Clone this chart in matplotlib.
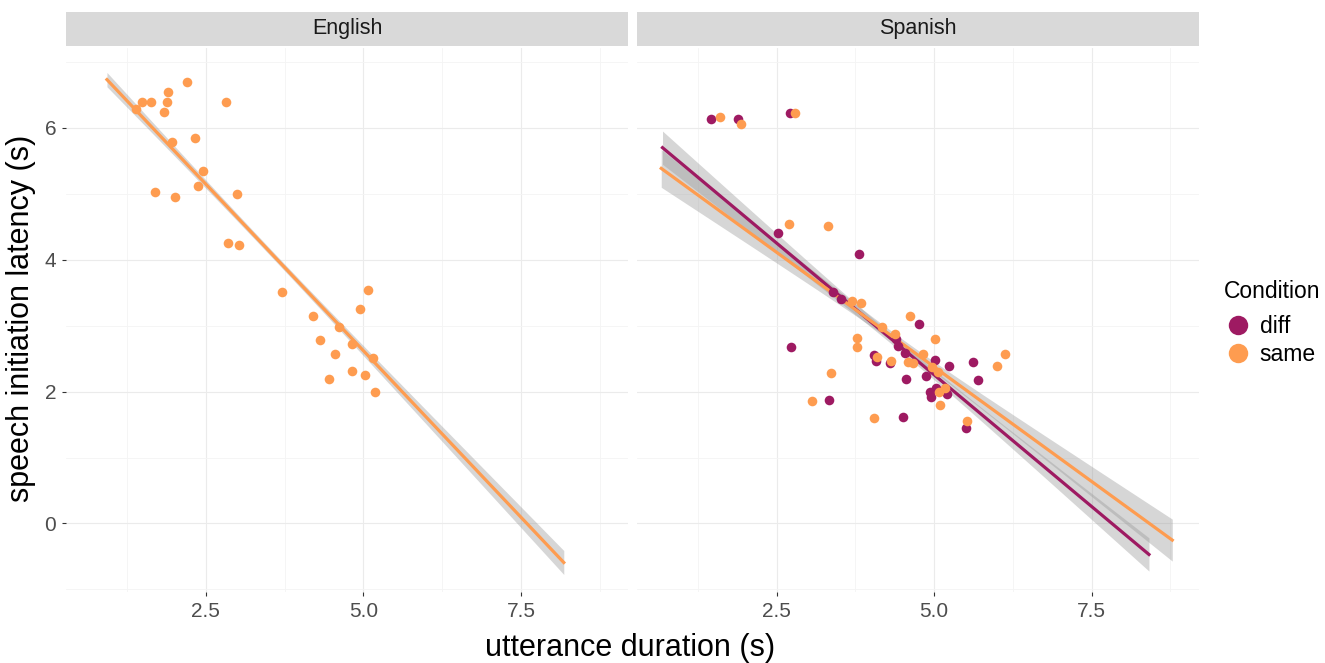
import numpy as np
import matplotlib
matplotlib.use("Agg")
import matplotlib.pyplot as plt
from matplotlib.lines import Line2D

plt.rcParams['font.family'] = ['Liberation Sans', 'DejaVu Sans']

# colours for the two conditions
COL = {'diff': '#9E1A62', 'same': '#FE9C50'}

# English panel (all "same")
en_x = [1.39, 1.49, 1.63, 1.90, 1.88, 1.84, 2.20, 2.82, 1.96, 2.33,
        2.45, 2.38, 1.70, 2.01, 3.00, 2.85, 3.03, 3.71, 4.20, 4.95,
        5.07, 4.62, 4.31, 4.82, 4.55, 5.16, 4.82, 5.03, 4.46, 5.18]
en_y = [6.28, 6.39, 6.39, 6.55, 6.39, 6.24, 6.70, 6.39, 5.79, 5.84,
        5.35, 5.12, 5.02, 4.95, 4.99, 4.26, 4.22, 3.51, 3.15, 3.25,
        3.54, 2.98, 2.78, 2.72, 2.57, 2.51, 2.31, 2.25, 2.19, 2.00]

# Spanish panel
es_diff_x = [1.46, 1.89, 2.71, 2.53, 3.81, 3.39, 3.53, 4.76, 4.39, 4.43,
             2.73, 4.54, 4.05, 4.08, 4.30, 5.01, 5.24, 4.87, 4.56, 5.62,
             5.69, 4.93, 4.95, 5.03, 5.20, 3.34, 4.50, 5.51]
es_diff_y = [6.13, 6.13, 6.22, 4.40, 4.08, 3.51, 3.40, 3.03, 2.79, 2.69,
             2.67, 2.58, 2.56, 2.47, 2.43, 2.48, 2.39, 2.24, 2.19, 2.45,
             2.17, 2.00, 1.92, 2.05, 1.97, 1.87, 1.62, 1.45]
es_same_x = [1.61, 1.94, 2.80, 2.69, 3.31, 3.69, 3.84, 4.62, 4.17, 4.38,
             3.77, 3.78, 5.02, 4.83, 4.10, 4.32, 4.58, 4.67, 4.96, 5.06,
             6.00, 6.13, 5.08, 5.17, 5.09, 3.37, 3.07, 4.05, 5.53]
es_same_y = [6.17, 6.06, 6.22, 4.54, 4.51, 3.37, 3.35, 3.15, 2.98, 2.87,
             2.82, 2.68, 2.79, 2.57, 2.53, 2.47, 2.45, 2.44, 2.38, 2.29,
             2.39, 2.57, 2.00, 2.05, 1.80, 2.28, 1.86, 1.60, 1.55]

# model fits:
# (x from, x to, intercept, slope, centre x, se at centre, se of slope)
fit_en_same = (0.93, 8.18, 7.67, -1.010, 3.5, 0.026, 0.019)
fit_es_diff = (0.69, 8.41, 6.25, -0.799, 4.55, 0.036, 0.032)
fit_es_same = (0.67, 8.78, 5.85, -0.695, 4.5, 0.036, 0.037)

x_major = [2.5, 5.0, 7.5]
x_minor = [1.25, 3.75, 6.25, 8.75]
y_major = [0, 2, 4, 6]
y_minor = [-1, 1, 3, 5, 7]


def draw_fit(ax, fit, color):
    x0, x1, b0, b1, xc, se0, se1 = fit
    xs = np.linspace(x0, x1, 100)
    yhat = b0 + b1 * xs
    hw = 1.96 * np.sqrt(se0 ** 2 + ((xs - xc) * se1) ** 2)
    ax.fill_between(xs, yhat - hw, yhat + hw, color='#999999', alpha=0.4,
                    linewidth=0, zorder=2)
    return xs, yhat


def style_panel(ax, title):
    ax.set_xlim(0.28, 9.2)
    ax.set_ylim(-1.04, 7.21)
    ax.set_facecolor('white')
    for s in ax.spines.values():
        s.set_visible(False)
    for v in x_major:
        ax.axvline(v, color='#EBEBEB', lw=0.8, zorder=0)
    for v in x_minor:
        ax.axvline(v, color='#F4F4F4', lw=0.6, zorder=0)
    for v in y_major:
        ax.axhline(v, color='#EBEBEB', lw=0.8, zorder=0)
    for v in y_minor:
        ax.axhline(v, color='#F4F4F4', lw=0.6, zorder=0)
    ax.set_xticks(x_major)
    ax.set_xticklabels(['2.5', '5.0', '7.5'])
    ax.set_yticks(y_major)
    ax.tick_params(length=3, width=0.8, color='#333333', labelcolor='#4D4D4D',
                   labelsize=15, pad=4)
    # strip on top
    pos = ax.get_position()
    sax = fig.add_axes([pos.x0, 0.931, pos.width, 0.051])
    sax.set_facecolor('#D9D9D9')
    sax.set_xticks([])
    sax.set_yticks([])
    for s in sax.spines.values():
        s.set_visible(False)
    sax.text(0.5, 0.5, title, ha='center', va='center', fontsize=15.5,
             color='#1A1A1A', transform=sax.transAxes)


fig = plt.figure(figsize=(13.25, 6.63), dpi=100)
ax1 = fig.add_axes([0.0498, 0.107, 0.4242, 0.8206])
ax2 = fig.add_axes([0.4805, 0.107, 0.4242, 0.8206])
style_panel(ax1, 'English')
style_panel(ax2, 'Spanish')
ax2.set_yticklabels([])
ax2.tick_params(axis='y', length=0)

# English
xs, yh = draw_fit(ax1, fit_en_same, COL['same'])
ax1.plot(xs, yh, color=COL['same'], lw=2.3, zorder=3)
ax1.scatter(en_x, en_y, s=48, color=COL['same'], linewidths=0, zorder=4)

# Spanish
xd, yd = draw_fit(ax2, fit_es_diff, COL['diff'])
xsm, ysm = draw_fit(ax2, fit_es_same, COL['same'])
ax2.plot(xd, yd, color=COL['diff'], lw=2.3, zorder=3)
ax2.plot(xsm, ysm, color=COL['same'], lw=2.3, zorder=3)
ax2.scatter(es_diff_x, es_diff_y, s=48, color=COL['diff'], linewidths=0, zorder=4)
ax2.scatter(es_same_x, es_same_y, s=48, color=COL['same'], linewidths=0, zorder=4)

fig.text(0.4755, 0.022, 'utterance duration (s)', ha='center', va='center',
         fontsize=22)
fig.text(0.016, 0.52, 'speech initiation latency (s)', ha='center', va='center',
         rotation=90, fontsize=22)

handles = [Line2D([], [], marker='o', ls='', markersize=14,
                  markerfacecolor=COL[c], markeredgewidth=0, label=c)
           for c in ['diff', 'same']]
leg = fig.legend(handles=handles, title='Condition', loc='center left',
                 bbox_to_anchor=(0.917, 0.513), frameon=False, fontsize=16.5,
                 title_fontsize=16.5, handletextpad=0.35, labelspacing=0.2,
                 borderaxespad=0, handlelength=1.2)
leg._legend_box.align = 'left'
leg._legend_box.sep = 9

fig.savefig('out.png', dpi=100)
